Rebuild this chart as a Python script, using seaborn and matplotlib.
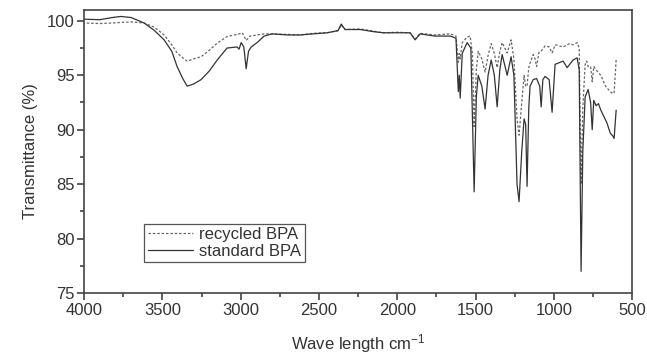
import matplotlib
matplotlib.use("Agg")
import matplotlib.pyplot as plt
from matplotlib.ticker import MultipleLocator
import seaborn as sns
import pandas as pd

# espectro FTIR - BPA padrao (linha cheia)
std_wn = [4000, 3900, 3820, 3764, 3700, 3617, 3550, 3489, 3440, 3406, 3370, 3342,
          3300, 3253, 3200, 3150, 3087, 3023, 3010, 2997, 2980, 2965, 2950, 2933,
          2895, 2850, 2800, 2700, 2620, 2540, 2448, 2378, 2358, 2333, 2237, 2150,
          2090, 2000, 1918, 1886, 1854, 1760, 1662, 1625, 1610, 1604, 1598, 1585,
          1554, 1530, 1509, 1495, 1483, 1460, 1439, 1420, 1400, 1380, 1362, 1345,
          1330, 1298, 1273, 1255, 1235, 1222, 1205, 1190, 1180, 1171, 1160, 1152,
          1132, 1110, 1090, 1081, 1070, 1056, 1030, 1011, 992, 941, 915, 877, 851,
          838, 826, 815, 800, 781, 765, 755, 745, 730, 715, 700, 680, 660, 640,
          622, 615, 602]
std_t = [100.15, 100.1, 100.3, 100.4, 100.3, 99.8, 99.1, 98.25, 97.2, 95.8, 94.7, 94.0,
         94.2, 94.6, 95.4, 96.4, 97.5, 97.6, 97.4, 98.0, 97.6, 95.6, 97.2, 97.6,
         98.0, 98.6, 98.8, 98.7, 98.7, 98.8, 98.9, 99.1, 99.7, 99.2, 99.2, 99.0,
         98.9, 98.9, 98.9, 98.25, 98.8, 98.6, 98.6, 98.4, 93.5, 95.0, 92.9, 97.0,
         98.0, 97.5, 84.3, 93.0, 95.0, 94.0, 91.9, 95.0, 96.4, 95.0, 92.1, 95.5,
         96.9, 95.0, 96.7, 95.0, 85.0, 83.4, 88.0, 91.0, 90.5, 84.8, 92.0, 94.0,
         94.6, 94.7, 94.0, 92.1, 94.6, 94.9, 94.6, 91.6, 96.0, 96.3, 95.7, 96.4, 96.6,
         95.5, 77.0, 88.0, 93.0, 93.7, 92.5, 90.0, 92.7, 92.2, 92.4, 91.8, 91.2, 90.6, 89.7,
         89.4, 89.2, 91.8]

# espectro FTIR - BPA reciclado (tracejado)
rec_wn = [4000, 3900, 3820, 3764, 3700, 3617, 3550, 3489, 3440, 3406, 3370, 3342,
          3300, 3253, 3200, 3150, 3087, 3010, 2990, 2965, 2940, 2895, 2850, 2800,
          2700, 2620, 2540, 2448, 2378, 2358, 2333, 2237, 2150, 2090, 2000, 1918,
          1886, 1854, 1760, 1662, 1625, 1610, 1604, 1598, 1585, 1554, 1535, 1520,
          1509, 1495, 1483, 1460, 1439, 1420, 1400, 1380, 1362, 1345, 1330, 1298,
          1273, 1255, 1235, 1222, 1205, 1190, 1180, 1171, 1160, 1152, 1132, 1120,
          1110, 1095, 1081, 1056, 1030, 1011, 992, 941, 900, 877, 851, 838, 826,
          815, 800, 790, 781, 765, 755, 745, 730, 700, 670, 640, 622, 615, 602]
rec_t = [99.8, 99.75, 99.8, 99.85, 99.9, 99.8, 99.4, 98.7, 97.8, 97.05, 96.6, 96.3,
         96.5, 96.7, 97.3, 97.95, 98.55, 98.8, 98.9, 98.2, 98.6, 98.7, 98.8, 98.8,
         98.75, 98.7, 98.85, 98.9, 99.1, 99.6, 99.2, 99.25, 99.05, 98.9, 98.95, 98.9,
         98.3, 98.85, 98.7, 98.8, 98.6, 96.2, 97.0, 96.5, 98.0, 98.5, 98.6, 97.0,
         90.3, 95.5, 97.2, 96.5, 95.3, 96.8, 97.9, 97.0, 95.7, 97.2, 98.0, 97.05,
         98.25, 96.5, 91.0, 89.5, 92.5, 95.0, 94.0, 94.0, 95.7, 96.1, 96.9, 96.5,
         95.8, 97.1, 97.2, 97.7, 97.6, 97.05, 97.8, 97.6, 97.9, 97.8, 98.0, 97.5, 85.0,
         92.0, 96.0, 96.3, 95.8, 95.8, 94.4, 95.8, 95.5, 95.0, 94.0, 93.5, 93.3, 93.4, 96.4]

df_std = pd.DataFrame({'wn': std_wn, 't': std_t})
df_rec = pd.DataFrame({'wn': rec_wn, 't': rec_t})

sns.set_style("ticks")
plt.rcParams['font.family'] = ['Liberation Sans', 'DejaVu Sans']
plt.rcParams['mathtext.fontset'] = 'custom'
plt.rcParams['mathtext.rm'] = 'Liberation Sans'
plt.rcParams['mathtext.it'] = 'Liberation Sans'

cor_txt = '#333333'

fig = plt.figure(figsize=(6.47, 3.54), dpi=100)
ax = fig.add_axes([0.13, 0.172, 0.847, 0.80])

sns.lineplot(data=df_rec, x='wn', y='t', ax=ax, color='#666666', linewidth=0.9,
             linestyle=(0, (2, 1.5)), label='recycled BPA', estimator=None)
sns.lineplot(data=df_std, x='wn', y='t', ax=ax, color='#333333', linewidth=0.9,
             label='standard BPA', estimator=None)

ax.set_xlim(4000, 500)
ax.set_ylim(75, 101)
ax.xaxis.set_major_locator(MultipleLocator(500))
ax.xaxis.set_minor_locator(MultipleLocator(250))
ax.yaxis.set_major_locator(MultipleLocator(5))
ax.yaxis.set_minor_locator(MultipleLocator(2.5))

ax.tick_params(which='major', length=5, width=1.1, colors=cor_txt, labelsize=12, pad=2)
ax.tick_params(which='minor', length=3, width=1.1, colors=cor_txt)
for sp in ax.spines.values():
    sp.set_visible(True)
    sp.set_linewidth(1.2)
    sp.set_color('#444444')

ax.set_xlabel('Wave length cm$^{-1}$', fontsize=12, color=cor_txt, labelpad=10)
ax.set_ylabel('Transmittance (%)', fontsize=12, color=cor_txt, labelpad=6)

leg = ax.legend(loc='lower left', bbox_to_anchor=(0.11, 0.11), borderaxespad=0,
                fontsize=12, handlelength=2.7, handletextpad=0.4, labelspacing=0.1,
                borderpad=0.2, fancybox=False, edgecolor='#555555', framealpha=1)
leg.get_frame().set_linewidth(0.9)
for t in leg.get_texts():
    t.set_color(cor_txt)

plt.savefig('out.png', dpi=100)
